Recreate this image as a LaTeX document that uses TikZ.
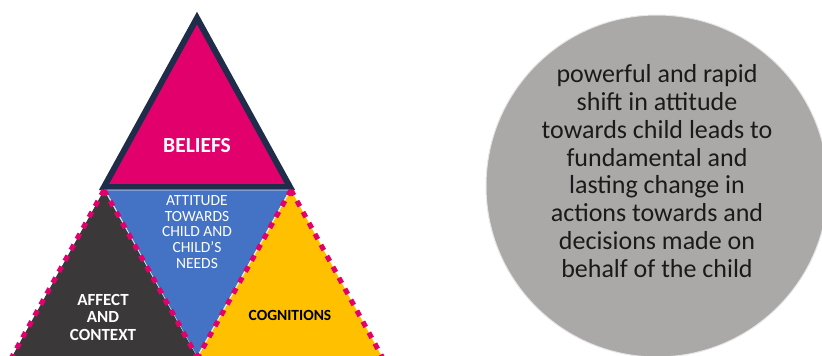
\documentclass[tikz,border=0pt]{standalone}
\usepackage{fontspec}
\setmainfont{Carlito}
\definecolor{beliefpink}{HTML}{E2006C}
\definecolor{navyedge}{HTML}{1F2D4A}
\definecolor{attblue}{HTML}{4472C4}
\definecolor{affdark}{HTML}{3A3838}
\definecolor{cogyellow}{HTML}{FFC000}
\definecolor{circgray}{HTML}{ABA8A8}
\definecolor{circtext}{HTML}{1A1A1A}
\tikzset{
  pinkdots/.style={draw=beliefpink, line width=5pt, dash pattern=on 6pt off 6.5pt},
  whitebold/.style={text=white, font=\bfseries, align=center},
}
\begin{document}
\begin{tikzpicture}[x=1pt,y=-1pt]
  \useasboundingbox (0,0) rectangle (822,356);
  \clip (0,0) rectangle (822,356);

  % top triangle: beliefs
  \path[fill=beliefpink, draw=navyedge, line width=6pt, line join=miter]
    (197,18) coordinate (apex) -- (104,187) coordinate (bl) -- (290,187) coordinate (br) -- cycle;

  % centre inverted triangle: attitude
  \path[fill=attblue, draw=white!85!gray, line width=0.8pt]
    (105,190) coordinate (tl) -- (290,190) coordinate (tr) -- (197,357) coordinate (bot) -- cycle;

  % left triangle: affect and context
  \coordinate (la) at (104,190);
  \coordinate (lb) at (8,364);
  \coordinate (lc) at (201,364);
  \path[fill=affdark] (la) -- (lb) -- (lc) -- cycle;

  % right triangle: cognitions
  \coordinate (ra) at (291,190);
  \coordinate (rb) at (194,364);
  \coordinate (rc) at (386,364);
  \path[fill=cogyellow] (ra) -- (rb) -- (rc) -- cycle;

  % dotted outlines
  \draw[pinkdots] (la) -- (lb);
  \draw[pinkdots] (la) -- (lc);
  \draw[pinkdots] (ra) -- (rb);
  \draw[pinkdots] (ra) -- (rc);

  % circle
  \node[circle, fill=circgray, draw=white!70!circgray, line width=1pt, minimum size=342pt, inner sep=0pt] (circ) at (657,186) {};

  % labels
  \node[whitebold, font=\bfseries\fontsize{21.5}{22}\selectfont] (beliefs) at (197,146) {BELIEFS};
  \node[text=white, align=center, font=\fontsize{15.5}{15.7}\selectfont] (attitude) at (197,232)
    {ATTITUDE\\TOWARDS\\CHILD AND\\CHILD’S\\NEEDS};
  \node[whitebold, font=\bfseries\fontsize{17}{17.5}\selectfont] (affect) at (103,317)
    {AFFECT\\AND\\CONTEXT};
  \node[text=black, font=\bfseries\fontsize{15.5}{17}\selectfont] (cognitions) at (290,315) {COGNITIONS};
  \node[text=circtext, align=center, font=\fontsize{26}{27.8}\selectfont] (shift) at (657,171)
    {powerful and rapid\\shift in attitude\\towards child leads to\\fundamental and\\lasting change in\\actions towards and\\decisions made on\\behalf of the child};
\end{tikzpicture}
\end{document}
